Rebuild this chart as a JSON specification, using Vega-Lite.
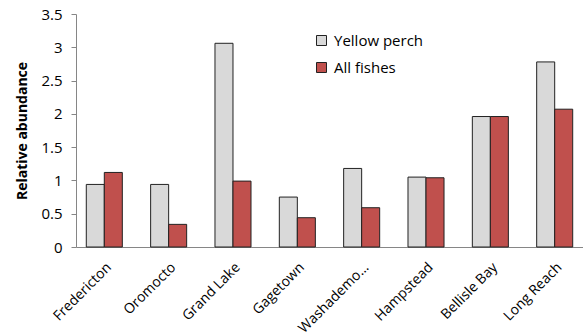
{
  "$schema": "https://vega.github.io/schema/vega-lite/v6.json",
  "width": 507,
  "height": 233,
  "autosize": {"type": "none"},
  "padding": {"left": 76, "top": 14, "right": 0, "bottom": 88},
  "background": "white",
  "config": {
    "view": {"stroke": null},
    "font": "Open Sans"
  },
  "data": {
    "values": [
      {"site": "Fredericton", "series": "Yellow perch", "value": 0.94},
      {"site": "Fredericton", "series": "All fishes", "value": 1.12},
      {"site": "Oromocto", "series": "Yellow perch", "value": 0.94},
      {"site": "Oromocto", "series": "All fishes", "value": 0.34},
      {"site": "Grand Lake", "series": "Yellow perch", "value": 3.06},
      {"site": "Grand Lake", "series": "All fishes", "value": 0.99},
      {"site": "Gagetown", "series": "Yellow perch", "value": 0.75},
      {"site": "Gagetown", "series": "All fishes", "value": 0.44},
      {"site": "Washademo…", "series": "Yellow perch", "value": 1.18},
      {"site": "Washademo…", "series": "All fishes", "value": 0.59},
      {"site": "Hampstead", "series": "Yellow perch", "value": 1.05},
      {"site": "Hampstead", "series": "All fishes", "value": 1.04},
      {"site": "Bellisle Bay", "series": "Yellow perch", "value": 1.96},
      {"site": "Bellisle Bay", "series": "All fishes", "value": 1.96},
      {"site": "Long Reach", "series": "Yellow perch", "value": 2.78},
      {"site": "Long Reach", "series": "All fishes", "value": 2.07}
    ]
  },
  "mark": {"type": "bar", "stroke": "#222222", "strokeWidth": 1},
  "encoding": {
    "x": {
      "field": "site",
      "type": "nominal",
      "sort": null,
      "scale": {"paddingInner": 0.44, "paddingOuter": 0.16},
      "axis": {
        "title": null,
        "labelAngle": -45,
        "labelAlign": "right",
        "labelBaseline": "top",
        "labelFontSize": 14,
        "labelColor": "#000000",
        "labelPadding": 13,
        "ticks": false,
        "domainColor": "#868686",
        "domainWidth": 1,
        "labelOverlap": false
      }
    },
    "xOffset": {"field": "series", "type": "nominal", "sort": ["Yellow perch", "All fishes"]},
    "y": {
      "field": "value",
      "type": "quantitative",
      "scale": {"domain": [0, 3.5], "nice": false},
      "axis": {
        "title": "Relative abundance",
        "titleFontSize": 14,
        "titleFontWeight": "bold",
        "titleColor": "#000000",
        "titlePadding": 11,
        "values": [0, 0.5, 1, 1.5, 2, 2.5, 3, 3.5],
        "format": "~g",
        "labelFontSize": 15,
        "labelColor": "#000000",
        "labelPadding": 9,
        "tickSize": 5,
        "tickColor": "#868686",
        "domainColor": "#868686",
        "grid": false
      }
    },
    "color": {
      "field": "series",
      "type": "nominal",
      "sort": ["Yellow perch", "All fishes"],
      "scale": {"domain": ["Yellow perch", "All fishes"], "range": ["#D9D9D9", "#C0504D"]},
      "legend": {
        "title": null,
        "orient": "none",
        "legendX": 238,
        "legendY": 19,
        "symbolType": "square",
        "symbolSize": 100,
        "symbolStrokeColor": "#222222",
        "symbolStrokeWidth": 1,
        "labelFontSize": 15,
        "labelColor": "#000000",
        "labelOffset": 5,
        "rowPadding": 11
      }
    }
  }
}
